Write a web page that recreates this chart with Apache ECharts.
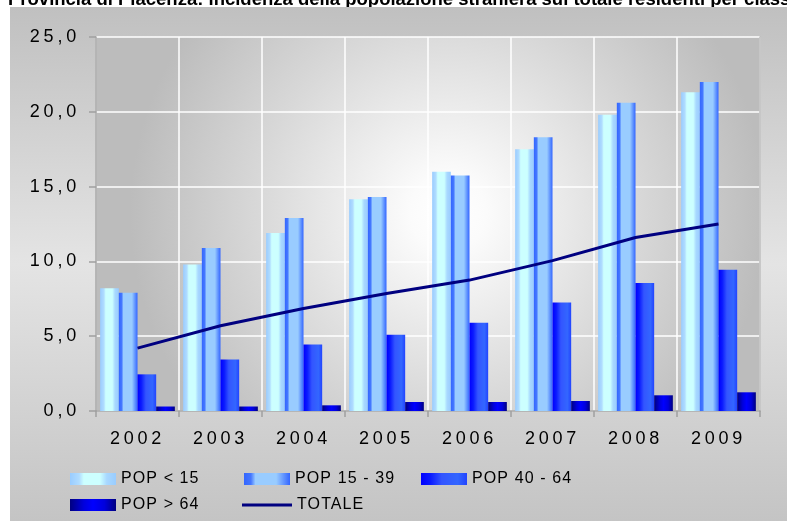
<!DOCTYPE html>
<html><head><meta charset="utf-8">
<script src="https://cdn.jsdelivr.net/npm/echarts@6/dist/echarts.min.js"></script>
<style>html,body{margin:0;padding:0;background:#fff;}#c{width:787px;height:521px;}</style>
</head><body><div id="c"></div>
<script>
const titleText = 'Provincia di Piacenza: incidenza della popolazione straniera sul totale residenti per classi di età';
const categories = ['2002', '2003', '2004', '2005', '2006', '2007', '2008', '2009'];
const seriesNames = ['POP < 15', 'POP 15 - 39', 'POP 40 - 64', 'POP > 64', 'TOTALE'];
const popUnder15 = [8.2, 9.8, 11.9, 14.15, 16.0, 17.5, 19.8, 21.3];
const pop15to39 = [7.9, 10.9, 12.9, 14.3, 15.75, 18.3, 20.6, 22.0];
const pop40to64 = [2.45, 3.45, 4.45, 5.1, 5.9, 7.25, 8.55, 9.45];
const popOver64 = [0.3, 0.3, 0.38, 0.6, 0.6, 0.67, 1.05, 1.25];
const totale = [4.2, 5.7, 6.85, 7.85, 8.75, 10.05, 11.6, 12.5];

const FONT = '"Liberation Sans", Arial, sans-serif';
const chart = echarts.init(document.getElementById('c'), null, {renderer: 'canvas', width: 787, height: 521});
try {
  const painter = chart.getZr().painter;
  painter.getLayer(-1).ctx.letterSpacing = '0px';
  painter.getLayer(0).ctx.letterSpacing = '3.8px';
  painter.getLayer(1).ctx.letterSpacing = '1.1px';
} catch (e) {}

const LG = echarts.graphic.LinearGradient;
const hg = (stops) => new LG(0, 0, 1, 0, stops.map((c) => ({offset: c[0], color: c[1]})));
const colUnder15 = hg([[0, '#99ccff'], [0.2, '#b0dcff'], [0.3, '#ccffff'], [0.65, '#ccffff'], [0.8, '#a8d8ff'], [1, '#99ccff']]);
const col15to39 = hg([[0, '#3366ff'], [0.15, '#4477ff'], [0.25, '#99ccff'], [0.7, '#99ccff'], [0.85, '#6699ff'], [1, '#3366ff']]);
const col40to64 = hg([[0, '#0000ff'], [0.2, '#0a1aff'], [0.45, '#3355ff'], [0.8, '#3366ff'], [1, '#2244ff']]);
const colOver64 = hg([[0, '#000080'], [0.3, '#0000dd'], [0.5, '#0000ff'], [0.75, '#0000dd'], [1, '#000080']]);

const legendCommon = {
  zlevel: 1, padding: 0, itemWidth: 46, itemHeight: 12, itemGap: 0,
  textStyle: {fontSize: 16, color: '#000', fontFamily: FONT}
};

const option = {
  animation: false,
  backgroundColor: 'transparent',
  title: {
    text: titleText, left: 8, top: -10, padding: 0, zlevel: -1,
    textStyle: {fontSize: 18.5, fontWeight: 'bold', color: '#000', fontFamily: FONT}
  },
  graphic: [{
    type: 'rect', z: -10, zlevel: 0, silent: true,
    shape: {x: 10, y: 7, width: 777, height: 514},
    style: {fill: new LG(0, 0, 0, 1, [
      {offset: 0, color: '#c0c0c0'}, {offset: 0.5, color: '#e4e4e4'}, {offset: 1, color: '#c4c4c4'}
    ])}
  }],
  legend: [
    Object.assign({data: [{name: seriesNames[0], icon: 'rect'}], left: 70, top: 471}, legendCommon),
    Object.assign({data: [{name: seriesNames[1], icon: 'rect'}], left: 244, top: 471}, legendCommon),
    Object.assign({data: [{name: seriesNames[2], icon: 'rect'}], left: 421, top: 471}, legendCommon),
    Object.assign({data: [{name: seriesNames[3], icon: 'rect'}], left: 70, top: 497}, legendCommon),
    Object.assign({}, legendCommon, {data: [{name: seriesNames[4], icon: 'rect'}], left: 242, top: 497, itemWidth: 50, itemHeight: 3})
  ],
  grid: {
    left: 96, top: 37, right: 27, bottom: 110, show: true, borderWidth: 0,
    backgroundColor: new echarts.graphic.RadialGradient(0.53, 0.47, 0.85, [
      {offset: 0, color: '#ffffff'}, {offset: 0.12, color: '#fbfbfb'},
      {offset: 0.6, color: '#d8d8d8'}, {offset: 1, color: '#bcbcbc'}
    ])
  },
  xAxis: {
    type: 'category', data: categories,
    axisLine: {show: true, lineStyle: {color: '#a0a0a0', width: 1.5}},
    axisTick: {show: true, interval: 0, length: 6, lineStyle: {color: '#a0a0a0', width: 1.5}},
    axisLabel: {margin: 19, fontSize: 18, color: '#000', fontFamily: FONT, interval: 0},
    splitLine: {show: true, interval: 0, lineStyle: {color: '#ffffff', width: 1.5}}
  },
  yAxis: [{
    type: 'value', min: 0, max: 25, interval: 5,
    axisLine: {show: true, lineStyle: {color: '#a0a0a0', width: 1.5}},
    axisTick: {show: true, length: 7, lineStyle: {color: '#a0a0a0', width: 1.5}},
    axisLabel: {margin: 16, fontSize: 18, color: '#000', fontFamily: FONT,
      formatter: (v) => v.toFixed(1).replace('.', ',')},
    splitLine: {show: true, lineStyle: {color: '#ffffff', width: 1.5}}
  }, {
    type: 'value', position: 'right', min: 0, max: 25, interval: 5,
    axisLine: {show: true, lineStyle: {color: '#b8b8b8', width: 1.5}},
    axisTick: {show: false}, axisLabel: {show: false}, splitLine: {show: false}
  }],
  series: [
    {name: seriesNames[0], type: 'bar', data: popUnder15, barGap: '0%', barCategoryGap: '10%', itemStyle: {color: colUnder15}},
    {name: seriesNames[1], type: 'bar', data: pop15to39, itemStyle: {color: col15to39}},
    {name: seriesNames[2], type: 'bar', data: pop40to64, itemStyle: {color: col40to64}},
    {name: seriesNames[3], type: 'bar', data: popOver64, itemStyle: {color: colOver64}},
    {name: seriesNames[4], type: 'line', data: totale, symbol: 'none', showSymbol: false,
      lineStyle: {color: '#000080', width: 3}, itemStyle: {color: '#000080'}, z: 5}
  ]
};
chart.setOption(option);
try { chart.getZr().painter.refresh(true); } catch (e) {}
</script>
</body></html>
